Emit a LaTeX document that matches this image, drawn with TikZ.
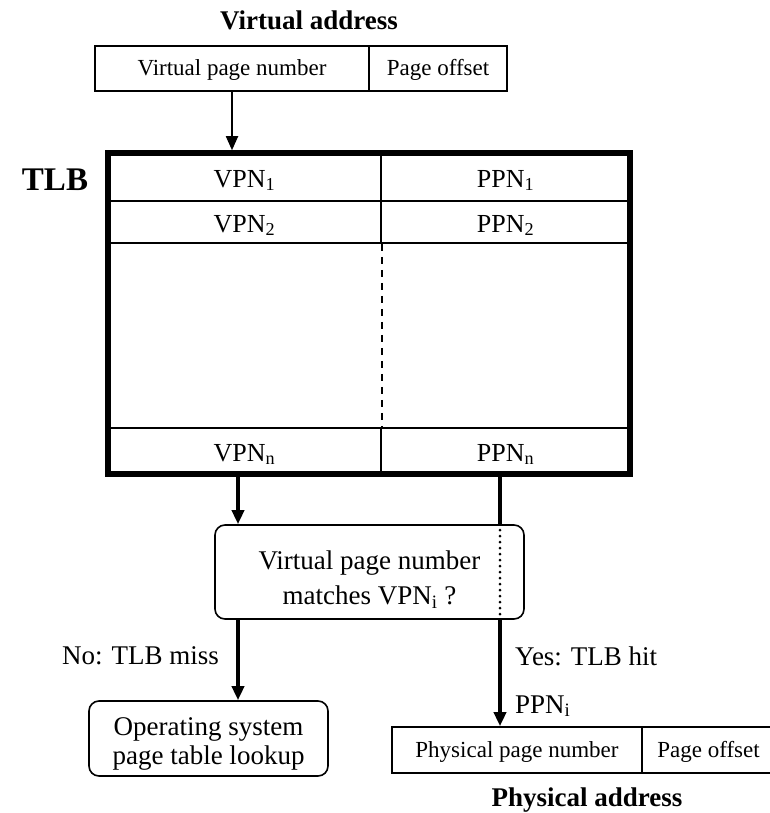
\documentclass[tikz,border=0pt]{standalone}
\usepackage{fontspec}
\setmainfont{Liberation Serif}
\usetikzlibrary{arrows.meta}

\begin{document}
\begin{tikzpicture}[x=1pt,y=-1pt]
    \tikzstyle{field} = [rectangle, draw=black, line width=1.6pt, inner sep=0pt, minimum height=45pt, text height=18pt, text depth=4pt, font=\fontsize{23}{27}\selectfont]
    \tikzstyle{entry} = [rectangle, draw=black, line width=1.8pt, inner sep=0pt, text height=23pt, text depth=3pt, font=\fontsize{26}{30}\selectfont]
    \tikzstyle{roundbox} = [rectangle, rounded corners=10pt, draw=black, line width=1.6pt, inner sep=0pt, align=center, font=\fontsize{27}{35}\selectfont]
    \tikzstyle{title} = [inner sep=0pt, font=\fontsize{27}{32}\selectfont\bfseries]
    \tikzstyle{branch} = [inner sep=0pt, font=\fontsize{27}{32}\selectfont]
    \tikzstyle{arrow} = [line width=3.6pt, -{Triangle[length=14pt,width=12pt]}]
    \tikzstyle{thinarrow} = [line width=1.8pt, -{Triangle[length=14pt,width=12pt]}]
    \tikzstyle{thickline} = [line width=3.6pt]
    \tikzstyle{dotline} = [line width=3pt, line cap=round, dash pattern=on 0pt off 6pt]
    \tikzstyle{dashline} = [line width=1.8pt, dash pattern=on 7pt off 6pt]

    \useasboundingbox (0,0) rectangle (770,813);

    % virtual address
    \node (vatitle) [title] at (309,20) {Virtual address};
    \node (vpn) [field, minimum width=274pt] at (232,68.5) {Virtual page number};
    \node (vpo) [field, minimum width=138pt] at (438,68.5) {Page offset};

    % TLB entries
    \node (v1) [entry, minimum width=273pt, minimum height=48pt] at (244.5,177) {VPN\textsubscript{1}};
    \node (p1) [entry, minimum width=249pt, minimum height=48pt] at (505.5,177) {PPN\textsubscript{1}};
    \node (v2) [entry, minimum width=273pt, minimum height=42pt] at (244.5,222) {VPN\textsubscript{2}};
    \node (p2) [entry, minimum width=249pt, minimum height=42pt] at (505.5,222) {PPN\textsubscript{2}};
    \node (vn) [entry, minimum width=273pt, minimum height=46pt] at (244.5,451) {VPN\textsubscript{n}};
    \node (pn) [entry, minimum width=249pt, minimum height=46pt] at (505.5,451) {PPN\textsubscript{n}};
    \draw [dashline] (v2.south east) -- (vn.north east);
    \node (tlb) [rectangle, draw=black, line width=5.5pt, inner sep=0pt, minimum width=522pt, minimum height=321pt] at (369,313.5) {};
    \node (tlblabel) [inner sep=0pt, font=\fontsize{33}{40}\selectfont\bfseries] at (55,180) {TLB};

    % lookup
    \node (match) [roundbox, minimum width=309pt, minimum height=94pt] at (369.5,572) {\rule{0pt}{34pt}Virtual page number\\matches VPN\textsubscript{i} ?};
    \node (os) [roundbox, minimum width=239pt, minimum height=75pt, font=\fontsize{27}{29}\selectfont] at (208.5,738.5) {\rule{0pt}{29pt}Operating system\\page table lookup};

    % physical address
    \node (ppn) [field, minimum width=250pt, minimum height=46pt] at (517,750) {Physical page number};
    \node (ppo) [field, minimum width=133pt, minimum height=46pt] at (708.5,750) {Page offset};
    \node (patitle) [title] at (587,800) {Physical address};

    \node (miss) [branch, anchor=base east] at (219,664) {No: TLB miss};
    \node (hit) [branch, anchor=base west] at (515,665) {Yes: TLB hit};
    \node (ppni) [branch, anchor=base west] at (515,713) {PPN\textsubscript{i}};

    \coordinate (vx) at (238,0);
    \coordinate (hx) at (500,0);

    \draw [thinarrow] (vpn.south) -- (vpn.south |- tlb.north);
    \draw [arrow] (tlb.south -| vx) -- (match.north -| vx);
    \draw [thickline] (tlb.south -| hx) -- (match.north -| hx);
    \draw [dotline] (match.north -| hx) -- (match.south -| hx);
    \draw [arrow] (match.south -| hx) -- (ppn.north -| hx);
    \draw [arrow] (match.south -| vx) -- (os.north -| vx);
\end{tikzpicture}
\end{document}
